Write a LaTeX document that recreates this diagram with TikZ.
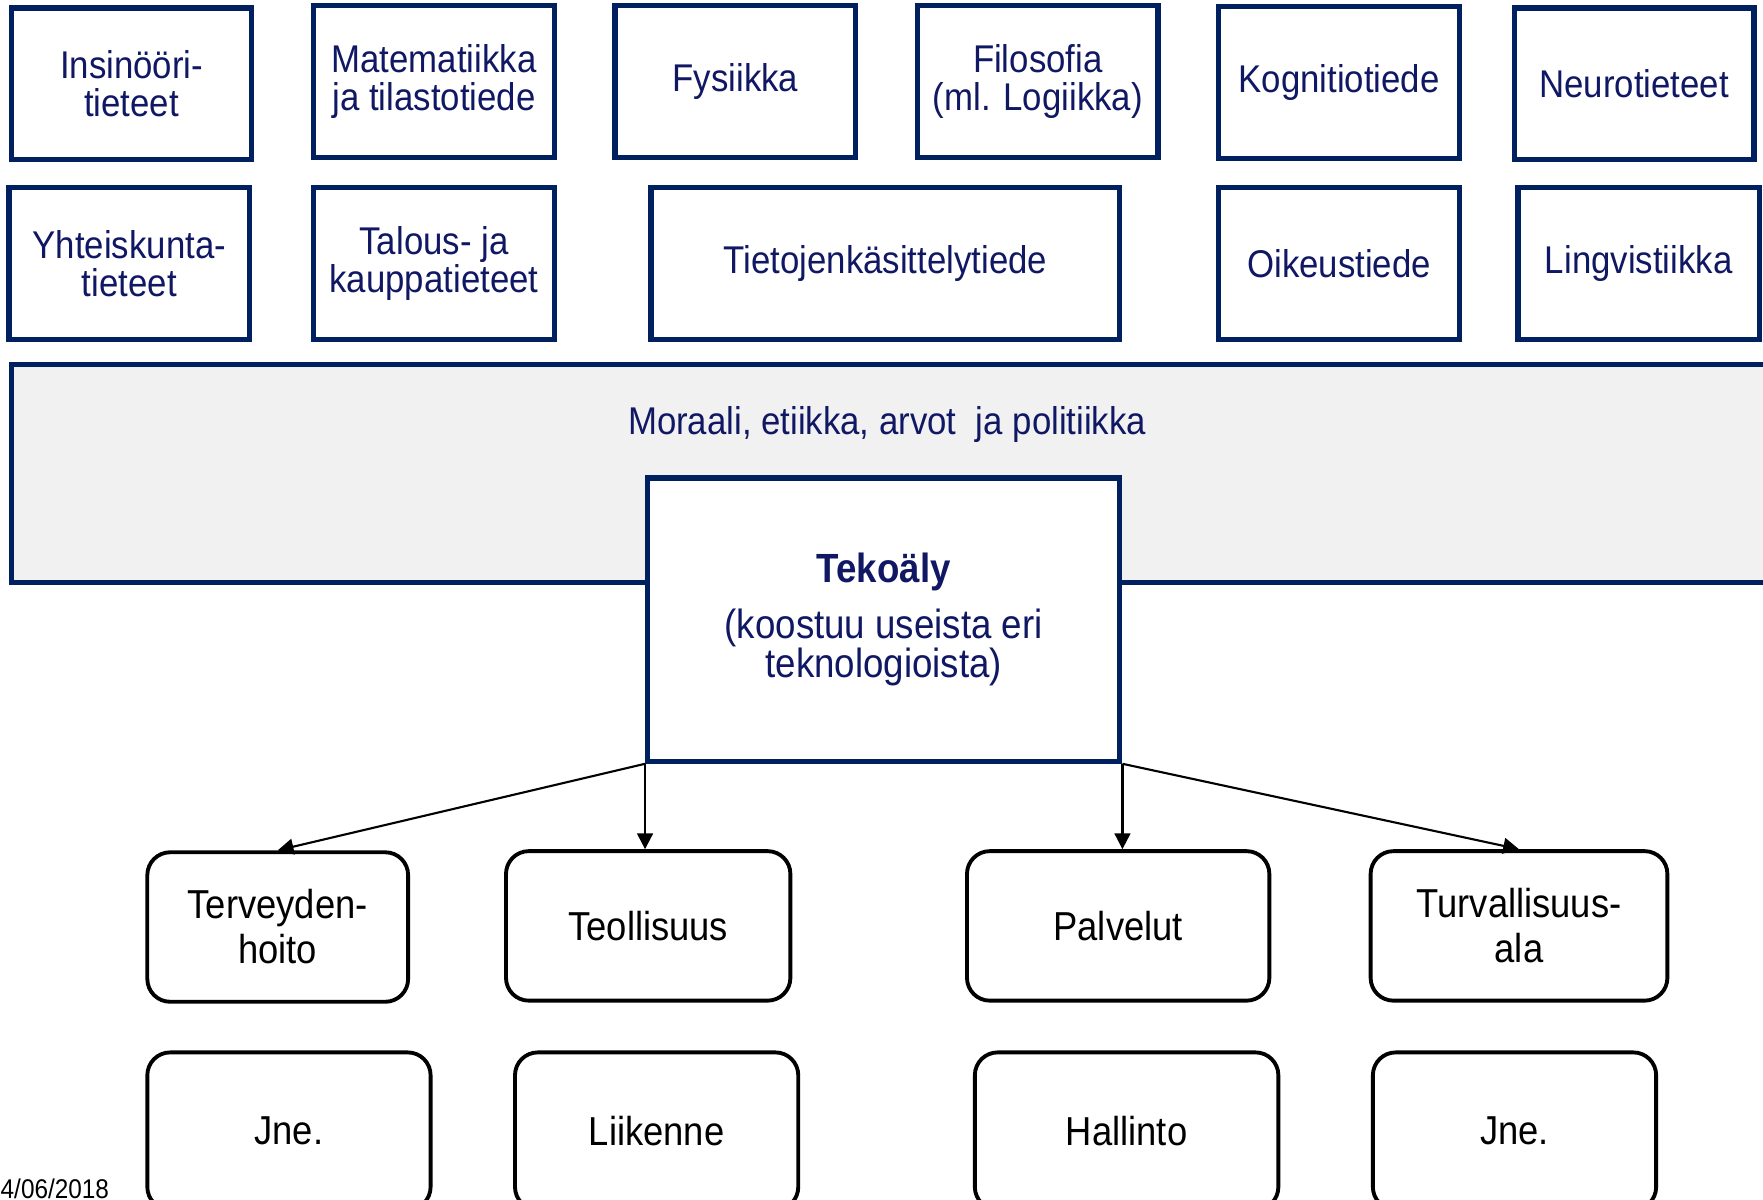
\documentclass[tikz,border=0pt]{standalone}
\usepackage{fontspec}
\setmainfont{Liberation Sans}[FakeStretch=0.9]
\usetikzlibrary{arrows.meta}
\definecolor{navy}{RGB}{0,32,96}
\definecolor{navytext}{RGB}{16,24,100}
\definecolor{bandgray}{RGB}{241,241,241}
% one drawing unit expressed in points
\newcommand\pxu{0.3199pt}

\begin{document}
\begin{tikzpicture}[x=0.011244cm, y=-0.011244cm,
  field/.style 2 args={draw=navy, line width=1.5pt, fill=white, text=navytext,
    align=center, inner sep=0pt, minimum width=#1*\pxu, minimum height=#2*\pxu,
    font=\fontsize{11}{10.9}\selectfont},
  sector/.style 2 args={draw=black, line width=1.1pt, fill=white, rounded corners=6.5pt,
    align=center, inner sep=0pt, minimum width=#1*\pxu, minimum height=#2*\pxu,
    font=\fontsize{11.5}{12.8}\selectfont},
  link/.style={draw=black, line width=0.6pt, -{Triangle[length=4.5pt,width=4.5pt]}}]

\useasboundingbox (0,0) rectangle (1568,1067);

% disciplines, first row
\node[field={214}{135}] (ins) at (117,74.5)   {Insinööri-\\tieteet};
\node[field={214}{135}] (mat) at (386,72.5)   {Matematiikka\\ja tilastotiede};
\node[field={214}{135}] (fys) at (654,72.5)   {Fysiikka};
\node[field={214}{135}] (fil) at (923,72.5)   {Filosofia\\(ml. Logiikka)};
\node[field={214}{135}] (kog) at (1191,73.5)  {Kognitiotiede};
\node[field={213}{135}] (neu) at (1453.5,74.5){Neurotieteet};

% disciplines, second row
\node[field={214}{135}] (yht) at (115,234.5)   {Yhteiskunta-\\tieteet};
\node[field={214}{135}] (tal) at (386,234.5)   {Talous- ja\\kauppatieteet};
\node[field={417}{135}] (tie) at (787.5,234.5) {Tietojenkäsittelytiede};
\node[field={214}{135}] (oik) at (1191,234.5)  {Oikeustiede};
\node[field={215}{135}] (lin) at (1457.5,234.5){Lingvistiikka};

% ethics band
\draw[draw=navy, line width=1.5pt, fill=bandgray] (10,324) rectangle (1640,518);
\node[text=navytext, font=\fontsize{11}{12.5}\selectfont] (eth) at (789,378)
  {Moraali, etiikka, arvot~ ja politiikka};

% central box
\node[field={420}{252}, font=\fontsize{11.6}{11.2}\selectfont] (tek) at (786,551)
  {\textbf{Tekoäly}\\[4.8pt](koostuu useista eri\\teknologioista)};

% application sectors
\node[sector={232}{133}] (ter) at (247,824.5)   {Terveyden-\\hoito};
\node[sector={253}{133}] (teo) at (576.5,823.5) {Teollisuus};
\node[sector={269}{133}] (pal) at (994.5,823.5) {Palvelut};
\node[sector={264}{133}] (tur) at (1351,823.5)  {Turvallisuus-\\ala};

\node[sector={252}{140}] (jne1) at (257,1006)  {Jne.};
\node[sector={252}{140}] (lii)  at (584,1006)  {Liikenne};
\node[sector={270}{140}] (hal)  at (1002,1006) {Hallinto};
\node[sector={252}{140}] (jne2) at (1347,1006) {Jne.};

% connectors
\draw[link] (tek.south west) -- (tek.south west |- teo.north);
\draw[link] (tek.south west) -- (ter.north);
\draw[link] (tek.south east) -- (tek.south east |- pal.north);
\draw[link] (tek.south east) -- (tur.north);

% date
\node[anchor=base west, inner sep=0pt, font=\fontsize{7.7}{8}\selectfont] (date) at (0,1066) {4/06/2018};
\end{tikzpicture}
\end{document}
